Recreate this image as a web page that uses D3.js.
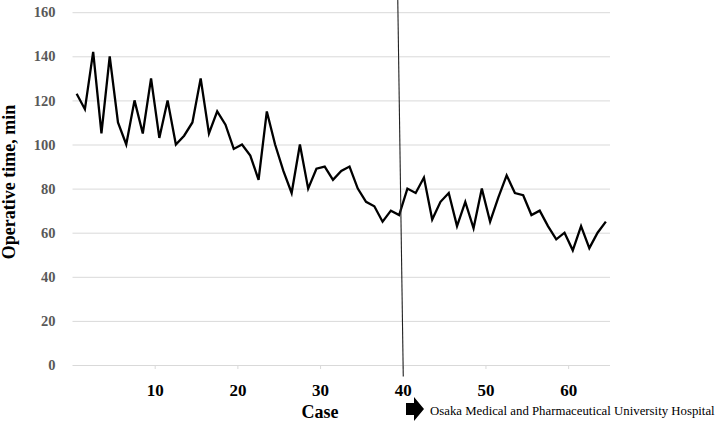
<!DOCTYPE html>
<html>
<head>
<meta charset="utf-8">
<script src="https://cdn.jsdelivr.net/npm/d3@7"></script>
<style>
  body { margin: 0; background: #fff; }
  svg { display: block; font-family: "Times New Roman", "Liberation Serif", serif; }
</style>
</head>
<body>
<div id="chart"></div>
<script>
// operative time per case (min), cases 1..65
var cases = d3.range(1, 66);
var opTime = [123, 116, 142, 105, 140, 110, 100, 120, 105, 130,
              103, 120, 100, 104, 110, 130, 105, 115, 109, 98,
              100, 95, 84, 115, 100, 88, 78, 100, 80, 89,
              90, 84, 88, 90, 80, 74, 72, 65, 70, 68,
              80, 78, 85, 66, 74, 78, 63, 74, 62, 80,
              65, 76, 86, 78, 77, 68, 70, 63, 57, 60,
              52, 63, 53, 60, 65];
var xTicks = [10, 20, 30, 40, 50, 60];
var yTicks = [0, 20, 40, 60, 80, 100, 120, 140, 160];
var switchCase = 40;
var hospitalLabel = "Osaka Medical and Pharmaceutical University Hospital";

var W = 716, H = 427;
var margin = { top: 12.2, right: 106, bottom: 62, left: 72.5 };
var width = W - margin.left - margin.right;
var height = H - margin.top - margin.bottom;

var svg = d3.select("#chart").append("svg")
    .attr("width", W)
    .attr("height", H);

var g = svg.append("g")
    .attr("transform", "translate(" + margin.left + "," + margin.top + ")");

var x = d3.scaleBand().domain(cases).range([0, width]).padding(0);
var y = d3.scaleLinear().domain([0, 160]).range([height, 0]);

function cx(c) { return x(c) + x.bandwidth() / 2; }
function edge(c) { return x(c) + x.bandwidth(); }

// gridlines + y labels
var yAxis = g.append("g")
    .call(d3.axisLeft(y).tickValues(yTicks).tickSize(-width).tickPadding(17));
yAxis.select(".domain").remove();
yAxis.selectAll(".tick line").attr("stroke", "#d9d9d9").attr("stroke-width", 1);
yAxis.selectAll(".tick text")
    .attr("fill", "#595959")
    .attr("font-size", 14.5)
    .attr("font-weight", "bold")
    .attr("font-family", "'Times New Roman', 'Liberation Serif', serif");

// x axis ticks at category boundaries
var xAxisG = g.append("g").attr("transform", "translate(0," + height + ")");
xAxisG.selectAll("line.tk")
    .data(xTicks).enter().append("line")
    .attr("class", "tk")
    .attr("x1", edge).attr("x2", edge)
    .attr("y1", 0).attr("y2", 4)
    .attr("stroke", "#d9d9d9");
xAxisG.selectAll("text")
    .data(xTicks).enter().append("text")
    .attr("x", edge)
    .attr("y", 30.5)
    .attr("text-anchor", "middle")
    .attr("font-size", 17)
    .attr("font-weight", "bold")
    .attr("fill", "#000")
    .text(function(d) { return d; });

// divider at case 40 (hand drawn, slightly slanted)
svg.append("line")
    .attr("x1", margin.left + edge(switchCase) - 5.5)
    .attr("y1", 0)
    .attr("x2", margin.left + edge(switchCase))
    .attr("y2", margin.top + height + 11.5)
    .attr("stroke", "#222")
    .attr("stroke-width", 1.1);

// the series
var line = d3.line()
    .x(function(d, i) { return cx(cases[i]); })
    .y(function(d) { return y(d); });

g.append("path")
    .datum(opTime)
    .attr("d", line)
    .attr("fill", "none")
    .attr("stroke", "#000")
    .attr("stroke-width", 2.3)
    .attr("stroke-linejoin", "miter");

// axis titles
svg.append("text")
    .attr("x", 320)
    .attr("y", 418)
    .attr("text-anchor", "middle")
    .attr("font-size", 18)
    .attr("font-weight", "bold")
    .text("Case");

svg.append("text")
    .attr("transform", "translate(15," + 182 + ") rotate(-90)")
    .attr("text-anchor", "middle")
    .attr("font-size", 18)
    .attr("font-weight", "bold")
    .text("Operative time, min");

// hospital arrow + label
var ax = 406, ay = 409;
svg.append("path")
    .attr("d", "M" + ax + "," + (ay - 6) + "H" + (ax + 8) + "V" + (ay - 12) +
               "L" + (ax + 18) + "," + ay + "L" + (ax + 8) + "," + (ay + 12) +
               "V" + (ay + 6) + "H" + ax + "Z")
    .attr("fill", "#000");

svg.append("text")
    .attr("x", 430)
    .attr("y", 414.5)
    .attr("font-size", 12.8)
    .attr("fill", "#000")
    .text(hospitalLabel);
</script>
</body>
</html>
